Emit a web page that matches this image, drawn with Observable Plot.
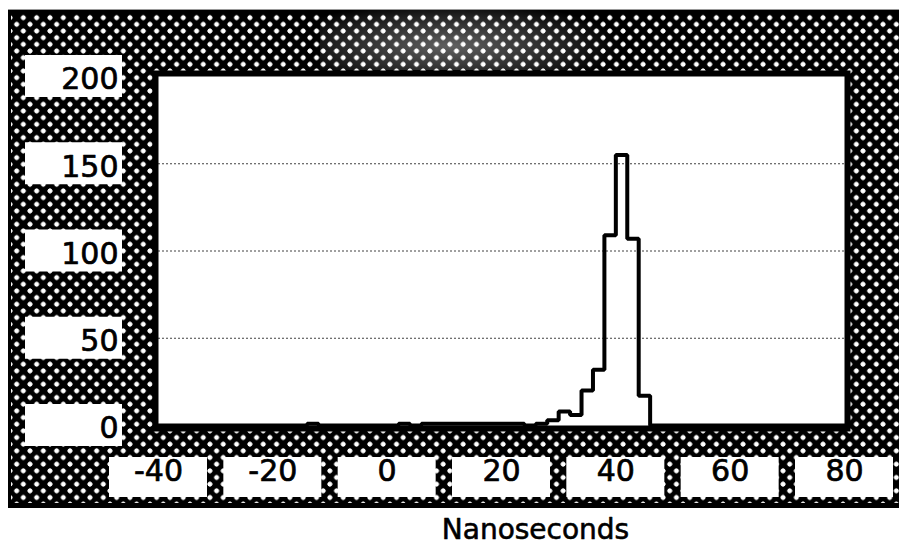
<!DOCTYPE html>
<html>
<head>
<meta charset="utf-8">
<script src="https://cdn.jsdelivr.net/npm/d3@7"></script>
<script src="https://cdn.jsdelivr.net/npm/@observablehq/plot@0.6"></script>
<style>
  html, body { margin: 0; padding: 0; background: #fff; }
  #wrap { position: relative; width: 899px; height: 555px; overflow: hidden; }
  /* dithered backdrop behind the chart */
  #panel { position: absolute; left: 8px; top: 9px; width: 891px; height: 499px; background: #000;
           border-top: 1px solid #999; box-sizing: border-box; }
  #dots { position: absolute; left: 3px; top: 4px; right: 0; bottom: 5px;
          background-image:
            radial-gradient(circle at center, #fff 0 2.2px, rgba(255,255,255,0) 2.8px),
            radial-gradient(circle at center, #fff 0 2.2px, rgba(255,255,255,0) 2.8px);
          background-size: 13.33px 13.33px, 13.33px 13.33px;
          background-position: 5.67px 10.33px, 12.33px 3.67px; }
  #haze { position: absolute; left: 320px; top: 10px; width: 310px; height: 60px;
          background: radial-gradient(ellipse 55% 75% at 42% 60%, rgba(255,255,255,0.38), rgba(255,255,255,0.12) 70%, rgba(255,255,255,0) 100%); }
  #chart { position: absolute; left: 0; top: 0; }
</style>
</head>
<body>
<div id="wrap">
  <div id="panel"><div id="dots"></div></div>
  <div id="haze"></div>
  <div id="chart"></div>
</div>
<script>
// Axis ticks
const xTicks = [-40, -20, 0, 20, 40, 60, 80];
const yTicks = [0, 50, 100, 150, 200];
const gridLevels = [50, 100, 150];

// Histogram: left edge of each 2 ns bin and its count
const binStart = [
  -40, -38, -36, -34, -32, -30, -28, -26, -24, -22, -20, -18, -16, -14, -12, -10,
  -8, -6, -4, -2, 0, 2, 4, 6, 8, 10, 12, 14, 16, 18, 20, 22, 24, 26, 28, 30,
  32, 34, 36, 38, 40, 42, 44, 46, 48, 50, 52, 54, 56, 58, 60, 62, 64, 66, 68, 70,
  72, 74, 76, 78
];
const counts = [
  0, 0, 0, 0, 0, 0, 0, 0, 0, 0, 0, 0, 0, 1, 0, 0,
  0, 0, 0, 0, 0, 1, 0, 1, 1, 1, 1, 1, 1, 1, 1, 1, 0, 1, 3, 8,
  6, 20, 32, 109, 155, 107, 17, 0, 0, 0, 0, 0, 0, 0, 0, 0, 0, 0, 0, 0,
  0, 0, 0, 0
];
const xEnd = 80;

const steps = binStart.map((x, i) => ({x, y: counts[i]}));
steps.push({x: xEnd, y: 0});

const font = "DejaVu Sans";
const labelStyle = {fontSize: 30, fontFamily: font, fill: "#000", stroke: "#000", strokeWidth: 0.7};

const chart = Plot.plot({
  width: 899,
  height: 555,
  marginLeft: 158,
  marginRight: 55,
  marginTop: 76,
  marginBottom: 130,
  style: {background: "transparent", overflow: "visible"},
  x: {domain: [-40, 80], axis: null},
  y: {domain: [0, 200], axis: null},
  marks: [
    // dark band around the plotting area, then the white plotting area
    Plot.frame({stroke: "#000", strokeWidth: 12}),
    Plot.frame({fill: "#fff"}),
    Plot.ruleY(gridLevels, {stroke: "#000", strokeWidth: 1, strokeDasharray: "2 2", strokeOpacity: 0.75}),
    Plot.lineY(steps, {x: "x", y: "y", curve: "step-after", stroke: "#000", strokeWidth: 4,
                       strokeLinejoin: "miter", strokeLinecap: "square"}),
    // label boxes
    Plot.rect(yTicks, {y1: d => d, y2: d => d, fill: "#fff",
                       insetLeft: -133, insetRight: 722, insetTop: -21, insetBottom: -21}),
    Plot.rect(xTicks, {x1: d => d, x2: d => d, fill: "#fff",
                       insetLeft: -49, insetRight: -49, insetTop: 381, insetBottom: -72}),
    // tick labels
    Plot.text(yTicks, {y: d => d, text: d => String(d), frameAnchor: "left", textAnchor: "end",
                       dx: -40, dy: 3.3, ...labelStyle}),
    Plot.text(xTicks, {x: d => d, text: d => String(d), frameAnchor: "bottom", textAnchor: "middle",
                       dy: 55, ...labelStyle}),
    // axis title
    Plot.text(["Nanoseconds"], {frameAnchor: "bottom", textAnchor: "middle", dx: 34, dy: 113,
                                fontSize: 28, fontFamily: font, fill: "#000", stroke: "#000", strokeWidth: 0.6})
  ]
});

document.getElementById("chart").appendChild(chart);
</script>
</body>
</html>
